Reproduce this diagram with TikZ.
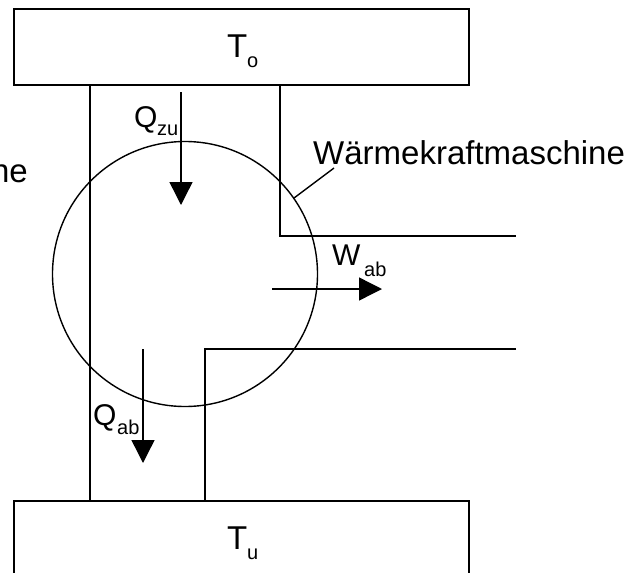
\documentclass[tikz,border=0pt]{standalone}
\usepackage{fontspec}
\setmainfont{Liberation Sans}
\usetikzlibrary{arrows.meta}
\begin{document}
\begin{tikzpicture}[x=1pt,y=-1pt,
  wall/.style={line width=1.4pt},
  reservoir/.style={draw,line width=2pt,minimum width=455pt,inner sep=0pt},
  flow/.style={line width=1.4pt,-{Triangle[length=23pt,width=23pt]}},
  lbl/.style={inner sep=0pt,anchor=base west,font=\fontsize{30}{30}\selectfont},
  biglbl/.style={inner sep=0pt,anchor=base west,font=\fontsize{33}{33}\selectfont},
  sublbl/.style={inner sep=0pt,anchor=base west,font=\fontsize{20}{20}\selectfont}]
\useasboundingbox (0,0) rectangle (632,573);
\clip (0,0) rectangle (632,573);
% reservoirs
\node[reservoir,minimum height=76pt] (top) at (241.5,47) {};
\node[reservoir,minimum height=80pt] (bot) at (241.5,541) {};
\node[biglbl] (To) at (227,57) {T};
\node[sublbl] (Tos) at (247,67) {o};
\node[biglbl] (Tu) at (227,549) {T};
\node[sublbl] (Tus) at (247,559) {u};
% walls
\coordinate (lw1) at (90,85);
\coordinate (lw2) at (90,501);
\coordinate (rw1) at (280,85);
\coordinate (rw2) at (280,236);
\coordinate (rw3) at (516,236);
\coordinate (bw1) at (516,349);
\coordinate (bw2) at (205,349);
\coordinate (bw3) at (205,501);
\draw[wall] (lw1) -- (lw2);
\draw[wall] (rw1) -- (rw2) -- (rw3);
\draw[wall] (bw1) -- (bw2) -- (bw3);
% machine circle
\node[draw,circle,line width=1.4pt,minimum size=265pt,inner sep=0pt] (mach) at (185,274) {};
% arrows
\coordinate (qz1) at (181,92);
\coordinate (qz2) at (181,205);
\coordinate (qa1) at (143,349);
\coordinate (qa2) at (143,463);
\coordinate (w1) at (272,289);
\coordinate (w2) at (382,289);
\draw[flow] (qz1) -- (qz2);
\draw[flow] (qa1) -- (qa2);
\draw[flow] (w1) -- (w2);
% labels
\node[lbl] (Qz) at (134,127) {Q};
\node[sublbl] (Qzs) at (157,135) {zu};
\node[lbl] (Qa) at (93,425) {Q};
\node[sublbl] (Qas) at (117,434) {ab};
\node[lbl] (W) at (332,265) {W};
\node[sublbl] (Ws) at (364,276) {ab};
\node[biglbl] (name) at (313,164) {Wärmekraftmaschine};
\node[biglbl,anchor=base east] (cut) at (28,182) {ne};
\coordinate (ld1) at (334,168);
\coordinate (ld2) at (294,198);
\draw[wall] (ld1) -- (ld2);
\end{tikzpicture}
\end{document}
